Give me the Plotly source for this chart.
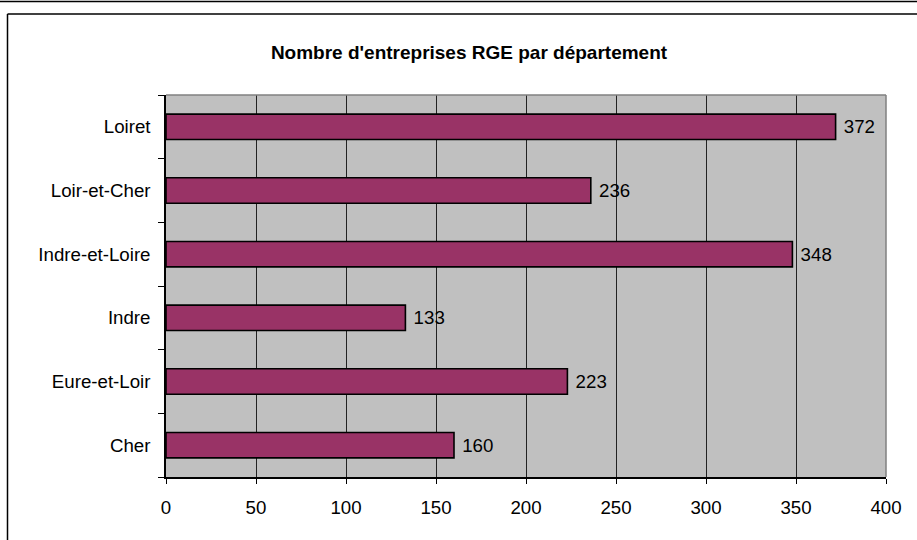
import plotly.graph_objects as go

categories = ["Cher", "Eure-et-Loir", "Indre", "Indre-et-Loire", "Loir-et-Cher", "Loiret"]
values = [160, 223, 133, 348, 236, 372]
x_ticks = [0, 50, 100, 150, 200, 250, 300, 350, 400]
title_text = "Nombre d'entreprises RGE par département"

W, H = 917, 540
L, R, T, B = 166, 886, 95, 477  # plot area in pixels
FONT = "Liberation Sans, Arial, sans-serif"
FS = 18.7


def px(x):
    return (x - L) / (R - L)


def py(y):
    return (B - y) / (B - T)


fig = go.Figure(
    go.Bar(
        x=values,
        y=categories,
        orientation="h",
        marker=dict(color="#993366", line=dict(color="#000000", width=1.6)),
        width=0.4,
        text=[str(v) for v in values],
        texttemplate=" %{text}",
        textposition="outside",
        textfont=dict(family=FONT, size=FS, color="#000000"),
        cliponaxis=False,
    )
)

shapes = [
    # gray top and right plot-area border
    dict(type="line", xref="paper", yref="paper", x0=0, x1=1, y0=1, y1=1,
         line=dict(color="#808080", width=1.5), layer="above"),
    dict(type="line", xref="paper", yref="paper", x0=1, x1=1, y0=0, y1=1,
         line=dict(color="#808080", width=1.5), layer="above"),
    # outer chart frame
    dict(type="line", xref="paper", yref="paper", x0=px(7.5), x1=px(W + 5),
         y0=py(14), y1=py(14), line=dict(color="#000000", width=1.5)),
    dict(type="line", xref="paper", yref="paper", x0=px(7.5), x1=px(7.5),
         y0=py(14), y1=py(H + 5), line=dict(color="#000000", width=1.5)),
    # top page line
    dict(type="line", xref="paper", yref="paper", x0=px(-5), x1=px(W + 5),
         y0=py(1.5), y1=py(1.5), line=dict(color="#000000", width=1.5)),
]

fig.update_layout(
    width=W,
    height=H,
    margin=dict(l=L, r=W - R, t=T, b=H - B, pad=0),
    paper_bgcolor="#ffffff",
    plot_bgcolor="#C0C0C0",
    showlegend=False,
    font=dict(family=FONT, size=FS, color="#000000"),
    title=dict(
        text="<b>" + title_text + "</b>",
        x=469 / W,
        xanchor="center",
        y=1 - 52 / H,
        yanchor="middle",
        font=dict(family=FONT, size=19, color="#000000"),
    ),
    xaxis=dict(
        range=[0, 400],
        tickvals=x_ticks,
        ticktext=[str(t) for t in x_ticks],
        showgrid=True,
        gridcolor="#222222",
        gridwidth=1,
        zeroline=False,
        showline=True,
        linecolor="#000000",
        linewidth=1.5,
        ticks="outside",
        ticklen=5,
        tickcolor="#000000",
        tickwidth=1,
        ticklabelstandoff=8,
        tickfont=dict(family=FONT, size=FS, color="#000000"),
        fixedrange=True,
    ),
    yaxis=dict(
        categoryorder="array",
        categoryarray=categories,
        showgrid=False,
        zeroline=False,
        showline=True,
        linecolor="#000000",
        linewidth=1.5,
        ticks="outside",
        tickson="boundaries",
        ticklen=6,
        tickcolor="#000000",
        tickwidth=1,
        ticklabelstandoff=10,
        tickfont=dict(family=FONT, size=FS, color="#000000"),
        fixedrange=True,
    ),
    shapes=shapes,
)

fig.write_html(
    "out.html",
    config={"displayModeBar": False},
    post_script="document.body.style.margin='0';document.body.style.overflow='hidden';",
)
